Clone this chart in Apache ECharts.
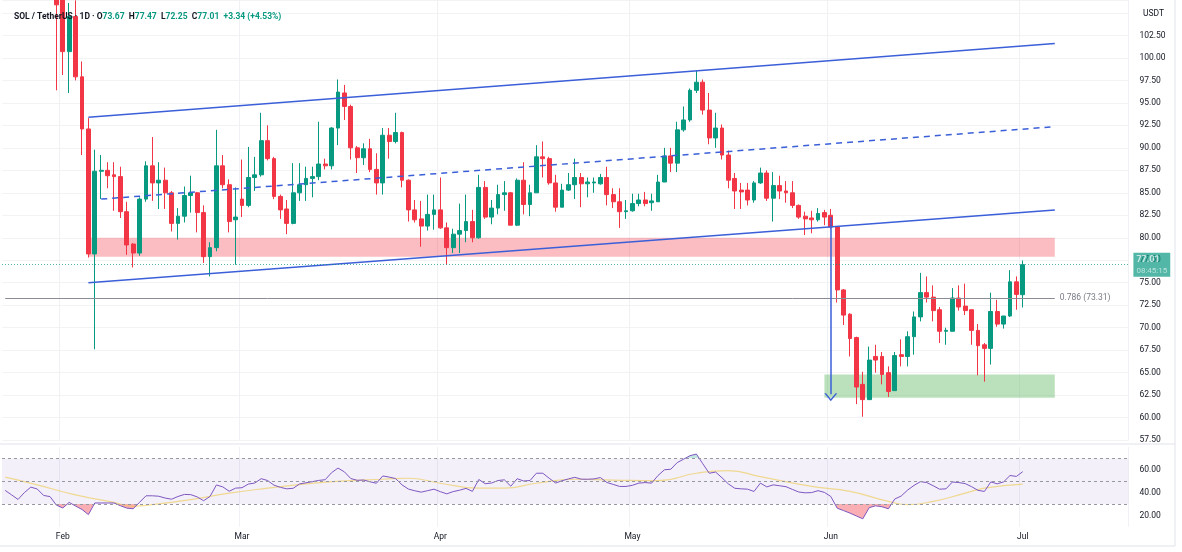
<!DOCTYPE html>
<html>
<head>
<meta charset="utf-8">
<script src="https://cdn.jsdelivr.net/npm/echarts@6/dist/echarts.min.js"></script>
<style>
html,body{margin:0;padding:0;background:#fff}
#chart{width:1182px;height:552px}
</style>
</head>
<body>
<div id="chart"></div>
<script>
const startDay = Date.UTC(2023, 0, 23)
const dayCount = 176
const firstCandle = 8
const monthNames = ['Jan','Feb','Mar','Apr','May','Jun','Jul','Aug','Sep','Oct','Nov','Dec']

const opens = [
  108.0,106.8,100.7,104.6,97.9,92.1,78.2,87.4,87.5,87.0,
  86.8,82.9,79.3,78.3,84.3,88.0,86.1,86.4,85.0,81.6,
  82.4,84.7,85.0,82.8,77.9,78.9,88.0,85.9,82.0,84.3,
  83.6,86.7,87.0,90.8,88.8,84.6,83.2,81.6,85.0,85.9,
  86.6,86.8,88.2,88.0,92.2,96.1,94.6,90.0,88.9,89.9,
  87.6,86.1,91.4,90.7,91.7,86.4,83.1,82.1,81.3,82.6,
  83.1,81.1,78.9,80.4,80.8,81.8,80.0,85.6,82.3,83.3,
  84.8,85.0,81.4,86.4,83.7,85.0,89.0,88.8,86.1,83.4,
  85.3,85.9,86.7,86.0,86.1,86.0,86.7,84.8,84.0,82.9,
  83.0,83.8,84.2,83.9,84.0,86.2,89.1,88.3,92.0,93.1,
  96.4,97.3,94.2,91.1,92.2,89.2,86.6,85.3,85.3,84.2,
  86.1,87.2,84.4,85.8,85.2,85.0,83.6,82.4,82.2,82.0,
  82.8,82.5,81.2,74.2,71.5,68.9,63.7,62.0,66.8,66.8,
  65.0,63.0,67.0,66.8,69.0,71.2,73.9,73.4,72.0,69.6,
  69.6,73.3,72.4,72.0,69.7,68.1,67.7,71.8,70.4,71.3,
  75.1,73.67
]
const closes = [
  105.9,100.7,104.6,97.9,92.1,78.2,87.4,87.5,86.9,86.8,
  82.9,79.2,78.3,84.3,88.0,86.1,86.4,85.0,81.6,82.4,
  84.7,85.0,82.8,77.9,78.9,88.0,85.9,81.8,82.3,83.6,
  86.7,87.0,90.8,88.8,84.6,83.1,81.6,85.0,85.9,86.6,
  86.8,88.2,88.0,92.2,96.2,94.6,90.0,88.9,89.9,87.6,
  86.1,91.4,90.7,91.7,86.4,83.1,82.0,81.3,82.6,83.1,
  81.1,78.9,80.4,80.8,81.8,80.0,85.6,82.3,83.3,84.8,
  85.0,81.4,86.4,83.7,85.0,89.0,88.8,86.1,83.4,85.3,
  85.9,86.7,86.0,86.2,86.2,86.7,84.8,84.0,82.9,83.0,
  83.8,84.2,83.8,84.1,86.2,89.1,88.3,92.0,93.1,96.4,
  97.3,94.2,91.1,92.2,89.2,86.4,85.2,85.1,84.2,86.1,
  87.2,84.4,85.8,85.2,85.0,83.6,82.3,82.1,82.0,82.7,
  82.3,81.2,74.2,71.4,68.8,63.4,62.0,66.4,66.4,64.8,
  62.9,66.9,66.8,69.0,71.2,73.9,73.4,71.9,69.6,69.7,
  73.3,72.3,71.9,69.7,68.0,67.7,71.8,70.4,71.3,75.1,
  73.7,77.01
]
const lows = [
  96.4,98.1,96.1,97.5,89.2,77.8,67.6,84.3,85.5,83.0,
  82.2,78.1,76.7,78.0,84.0,84.1,83.2,83.2,80.7,79.8,
  81.7,82.8,80.6,77.2,75.7,78.5,85.5,80.6,77.0,82.3,
  83.4,85.2,86.8,88.6,84.3,82.1,80.4,81.5,84.1,84.1,
  84.5,86.4,87.6,87.6,90.3,93.1,88.7,87.2,88.1,87.3,
  84.8,84.8,88.8,90.5,85.6,81.8,81.7,79.0,80.8,80.9,
  81.0,77.0,78.3,78.3,79.5,79.5,79.9,82.1,81.5,82.6,
  83.0,81.4,81.3,82.6,82.4,85.0,86.7,85.9,82.9,83.4,
  85.2,84.3,83.4,84.5,85.0,85.9,83.6,83.3,81.1,82.1,
  82.9,83.5,83.5,83.0,84.0,86.2,87.3,87.3,91.8,92.9,
  96.1,93.7,90.4,90.0,88.7,85.5,83.2,83.2,83.6,83.9,
  86.0,84.1,81.8,84.3,83.9,83.3,82.1,80.3,80.5,81.8,
  81.4,81.0,72.8,70.3,66.8,61.5,60.1,62.0,65.0,63.7,
  62.3,63.0,65.7,65.7,67.0,70.7,72.8,70.7,68.3,68.1,
  69.6,71.9,71.4,68.1,64.7,64.0,65.9,70.1,69.9,71.2,
  72.0,72.25
]
const highs = [
  109.0,108.0,106.1,106.4,99.6,93.3,89.8,89.2,88.4,88.4,
  87.9,84.0,79.4,84.5,88.5,91.2,88.4,87.8,85.2,83.3,
  85.7,86.9,85.1,83.6,79.5,92.0,89.2,86.5,85.6,88.7,
  90.1,89.0,93.9,92.5,89.0,84.8,84.2,88.3,88.3,87.9,
  87.9,92.9,88.8,92.3,97.6,97.0,94.8,90.2,90.5,91.0,
  89.4,92.2,92.2,93.9,91.8,86.5,84.2,84.1,84.8,84.8,
  86.7,81.7,81.0,83.8,84.8,83.1,87.0,86.3,84.2,85.9,
  86.3,85.1,86.6,88.4,85.9,90.3,90.7,89.0,87.0,86.0,
  87.2,88.8,87.2,86.7,86.7,87.1,87.9,85.5,85.5,84.2,
  84.9,84.9,85.1,84.9,87.0,90.0,90.0,92.9,94.6,96.6,
  98.6,97.6,96.1,93.9,92.6,89.7,87.2,86.1,86.1,86.3,
  87.8,87.5,87.3,86.9,86.3,86.3,83.7,82.9,83.0,83.3,
  83.1,83.2,81.3,74.3,71.6,69.0,65.1,67.9,68.1,67.3,
  65.7,67.3,68.7,69.6,71.8,76.1,75.7,74.7,72.3,70.0,
  74.4,74.7,74.9,72.0,70.4,68.3,73.9,73.1,71.3,76.4,
  75.7,77.47
]

const rsiValues = [
  41.9,38,34,40,44.8,43.2,37.5,36.5,29,26.5,
  31.4,28.2,25.2,20.7,30.9,30.9,30.9,30.9,28.5,26.4,
  25.8,31.5,37.2,37.2,36.8,35.2,34.2,36.6,38.4,38.2,
  36.2,32.9,36.6,46.7,45,41.2,43.9,44.3,47.5,48.4,
  52.2,50.6,46.5,44.6,43.3,43.8,47.6,48.6,49.6,50.7,
  51.3,57.5,61.5,58.2,52.3,50.8,51,49.5,48.2,54.6,
  53.6,52.3,46.8,43.1,41.6,40.4,41.7,43,40.8,38.9,
  40.9,42.1,43.7,41.1,51.5,47.8,48.4,50.6,51.2,45.6,
  52.2,50.2,50.6,57,57,52.6,48.4,50.4,52,53.4,
  51.8,51.7,52,53.2,48.9,47.2,45.4,45.4,46.4,48.3,
  48.8,48.3,55,60,60.5,66.3,69.3,72.4,73.8,65.3,
  57,58,53,47.6,43.8,43.3,43,41,48.3,45,
  46.8,46,45.2,42.8,40.5,39.8,40,41.7,40.2,36.6,
  26.3,24.2,22,19.5,17,26.8,28.4,27.6,25.8,34.4,
  37,42.2,46.3,49.6,48.8,46,43,43.3,49.3,48.8,
  47.9,45.2,42,41,49.4,47.7,49.4,55,54.2,58.4
]
// [day index, value]
const rsiMaPoints = [
  [0,53.5],[5,46.8],[11,38],[17,31.4],[20,28],[23,29.4],[29,33.8],[35,39.5],
  [41,43.9],[47,47.7],[53,50.3],[59,51.7],[63,52.6],[68,48.2],[74,43.9],[78,43.9],
  [83,48.2],[89,51.7],[95,51],[102,50.5],[108,57],[113,59.3],[118,54],[126,45.4],
  [132,41],[138,32.3],[141,29.4],[145,32.3],[150,39.5],[153,43.9],[159,47.4]
]

const channelUpper = [[13, 93.4], [164, 101.6]]
const channelLower = [[13, 75.0], [164, 83.1]]
const channelMid = [[15, 84.3], [164, 92.35]]
const resistanceZone = [[13, 80.0], [164, 77.9]]
const supportZone = [[128, 64.8], [164, 62.2]]
const dropArrow = [[129, 82.3], [129, 62.6]]
const fibStart = 0
const fibEnd = 164
const fibLevel = 73.31
const lastPrice = 77.01
const topPriceLabel = 102.5

const days = []
for (let i = 0; i < dayCount; i++) {
  days.push(new Date(startDay + i * 86400000).toISOString().slice(0, 10))
}
const isMonthStart = v => v.slice(8) === '01'
const pt = p => [days[p[0]], p[1]]

const candles = days.map((d, i) => {
  const k = i - firstCandle
  if (k < 0 || k >= opens.length) return '-'
  return [opens[k], closes[k], lows[k], highs[k]]
})

const up = '#089981'
const down = '#f23645'
const blue = '#3b5fd8'
const font = 'Roboto, "Noto Sans", sans-serif'

const chart = echarts.init(document.getElementById('chart'))
chart.setOption({
  animation: false,
  backgroundColor: '#ffffff',
  textStyle: {fontFamily: font},
  title: {
    left: 9, top: 7,
    text: '{n|SOL / TetherUS · 1D · }{k|O}{v|73.67  }{k|H}{v|77.47  }{k|L}{v|72.25  }{k|C}{v|77.01  +3.34 (+4.53%)}',
    textStyle: {
      rich: {
        n: {color: '#131722', fontSize: 8.5, fontFamily: font},
        k: {color: '#131722', fontSize: 8.5, fontFamily: font},
        v: {color: up, fontSize: 8.5, fontFamily: font}
      }
    }
  },
  grid: [
    {left: 2, top: 0, width: 1126.4, height: 440.1},
    {left: 2, top: 447, width: 1126.4, height: 79.8}
  ],
  xAxis: [
    {
      type: 'category', gridIndex: 0, data: days,
      axisLine: {show: false}, axisTick: {show: false}, axisLabel: {show: false},
      splitLine: {show: true, interval: (i, v) => isMonthStart(v), lineStyle: {color: '#f0f1f4'}}
    },
    {
      type: 'category', gridIndex: 1, data: days,
      axisLine: {show: false}, axisTick: {show: false},
      axisLabel: {
        interval: (i, v) => isMonthStart(v),
        formatter: v => monthNames[Number(v.slice(5, 7)) - 1],
        color: '#131722', fontSize: 8.5, margin: 6
      },
      splitLine: {show: true, interval: (i, v) => isMonthStart(v), lineStyle: {color: '#f0f1f4'}}
    }
  ],
  yAxis: [
    {
      type: 'value', gridIndex: 0, position: 'right',
      min: 57.5, max: 106.44, interval: 2.5,
      axisLine: {show: false}, axisTick: {show: false},
      axisLabel: {
        formatter: v => v > topPriceLabel ? '' : v.toFixed(2),
        showMaxLabel: false, color: '#131722', fontSize: 8.5, margin: 11
      },
      splitLine: {lineStyle: {color: '#f2f3f5'}}
    },
    {
      type: 'value', gridIndex: 1, position: 'right',
      min: 10, max: 80, interval: 10,
      axisLine: {show: false}, axisTick: {show: false},
      axisLabel: {
        formatter: v => (v % 20 === 0 && v < 80) ? v.toFixed(2) : '',
        color: '#131722', fontSize: 8.5, margin: 11
      },
      splitLine: {show: false}
    }
  ],
  visualMap: {
    show: false, type: 'piecewise', seriesIndex: 2, dimension: 1,
    pieces: [
      {lt: 30, color: 'rgba(242,54,69,0.4)'},
      {gte: 30, lte: 70, color: 'rgba(255,255,255,0)'},
      {gt: 70, color: 'rgba(8,153,129,0.25)'}
    ]
  },
  series: [
    {
      type: 'candlestick', name: 'SOL', xAxisIndex: 0, yAxisIndex: 0,
      data: candles, barWidth: '70%', clip: true,
      itemStyle: {color: up, color0: down, borderColor: up, borderColor0: down, borderWidth: 1},
      markArea: {
        silent: true,
        data: [
          [{coord: pt(resistanceZone[0]), itemStyle: {color: 'rgba(242,54,69,0.33)'}}, {coord: pt(resistanceZone[1])}],
          [{coord: pt(supportZone[0]), itemStyle: {color: 'rgba(76,175,80,0.38)'}}, {coord: pt(supportZone[1])}]
        ]
      },
      markLine: {
        silent: true, symbol: ['none', 'none'],
        label: {show: false},
        data: [
          [{coord: pt(channelUpper[0]), lineStyle: {color: blue, width: 1.5, type: 'solid'}}, {coord: pt(channelUpper[1])}],
          [{coord: pt(channelLower[0]), lineStyle: {color: blue, width: 1.5, type: 'solid'}}, {coord: pt(channelLower[1])}],
          [{coord: pt(channelMid[0]), lineStyle: {color: blue, width: 1.5, type: [6, 5]}}, {coord: pt(channelMid[1])}],
          [
            {
              coord: [days[fibStart], fibLevel],
              lineStyle: {color: '#8a8d96', width: 1, type: 'solid'},
              label: {
                show: true, position: 'end', formatter: '0.786 (73.31)',
                color: '#787b86', fontSize: 8.5, padding: [0, 0, 13, 0]
              }
            },
            {coord: [days[fibEnd], fibLevel]}
          ],
          [
            {coord: pt(dropArrow[0]), symbol: 'none', lineStyle: {color: blue, width: 1.5, type: 'solid'}},
            {
              coord: pt(dropArrow[1]),
              symbol: 'path://M0,8 L6,0 L12,8 L10.4,8 L6,2.2 L1.6,8 Z',
              symbolSize: [13, 8], symbolOffset: [0, -3]
            }
          ],
          {
            yAxis: lastPrice,
            lineStyle: {color: up, width: 1, type: [1, 2], opacity: 0.7},
            label: {
              show: true, position: 'end',
              formatter: '{a|77.01}\n{b|08:45:15}',
              backgroundColor: up, padding: [2, 3, 1, 3],
              rich: {
                a: {color: '#fff', fontSize: 9, fontWeight: 'bold', lineHeight: 11, fontFamily: font},
                b: {color: '#e6f5f2', fontSize: 8, lineHeight: 10, fontFamily: font}
              }
            }
          }
        ]
      }
    },
    {
      type: 'line', name: 'RSI', xAxisIndex: 1, yAxisIndex: 1,
      data: rsiValues, showSymbol: false, silent: true, z: 4,
      lineStyle: {color: '#7e57c2', width: 1},
      markArea: {
        silent: true,
        data: [[{yAxis: 30, itemStyle: {color: 'rgba(126,87,194,0.09)'}}, {yAxis: 70}]]
      },
      markLine: {
        silent: true, symbol: ['none', 'none'], label: {show: false},
        lineStyle: {color: '#9598a1', width: 1, type: [3, 3]},
        data: [{yAxis: 70}, {yAxis: 50}, {yAxis: 30}]
      }
    },
    {
      type: 'line', name: 'RSI zone', xAxisIndex: 1, yAxisIndex: 1,
      data: rsiValues, showSymbol: false, silent: true, z: 3,
      lineStyle: {width: 0, opacity: 0},
      areaStyle: {origin: 30, opacity: 1}
    },
    {
      type: 'line', name: 'RSI MA', xAxisIndex: 1, yAxisIndex: 1,
      data: rsiMaPoints.map(pt), showSymbol: false, silent: true, smooth: 0.5, z: 3,
      lineStyle: {color: 'rgba(236,196,60,0.55)', width: 1.2}
    }
  ],
  graphic: [
    {type: 'text', left: 1143, top: 9, style: {text: 'USDT', fill: '#131722', fontSize: 8.5, fontFamily: font}},
    {type: 'line', shape: {x1: 0, y1: 444, x2: 1175, y2: 444}, style: {stroke: '#e0e3eb', lineWidth: 1}},
    {type: 'line', shape: {x1: 1175, y1: 0, x2: 1175, y2: 546}, style: {stroke: '#e0e3eb', lineWidth: 1}},
    {type: 'line', shape: {x1: 0, y1: 546, x2: 1175, y2: 546}, style: {stroke: '#e0e3eb', lineWidth: 1}}
  ]
})
</script>
</body>
</html>
